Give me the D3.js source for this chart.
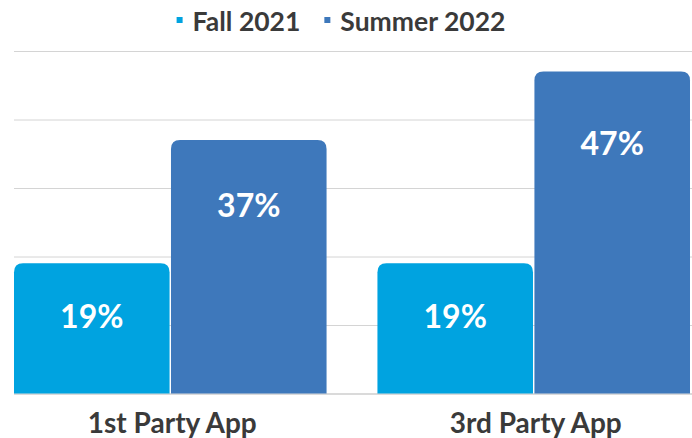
<!DOCTYPE html>
<html>
<head>
<meta charset="utf-8">
<script src="https://cdn.jsdelivr.net/npm/d3@7"></script>
<style>
  body { margin: 0; background: #fff; }
  text { font-family: Lato, "Open Sans", sans-serif; font-weight: bold; }
</style>
</head>
<body>
<script>
var categories = ["1st Party App", "3rd Party App"];
var seriesNames = ["Fall 2021", "Summer 2022"];
var fall2021 = [19, 19];
var summer2022 = [37, 47];
var yTicks = [0, 10, 20, 30, 40, 50];

var width = 692, height = 438;
var margins = {top: 51, left: 14, right: 2, bottom: 44.5};
var colors = d3.scaleOrdinal().domain(seriesNames).range(["#00A3E0", "#3E78BB"]);

var svg = d3.select("body").append("svg")
    .attr("width", width)
    .attr("height", height);

var y = d3.scaleLinear().domain([0, 50]).range([height - margins.bottom, margins.top]);

var x0 = d3.scaleBand()
    .domain(categories)
    .range([margins.left, width - margins.right])
    .paddingInner(0.14)
    .paddingOuter(0);

var x1 = d3.scaleBand()
    .domain(seriesNames)
    .range([0, x0.bandwidth()])
    .paddingInner(0.009);

// grid lines
var yAxis = d3.axisLeft(y)
    .tickValues(yTicks)
    .tickSize(-(width - margins.left))
    .tickFormat("");

var axisG = svg.append("g")
    .attr("transform", "translate(" + margins.left + ",0)")
    .call(yAxis);
axisG.select(".domain").remove();
axisG.selectAll(".tick line")
    .attr("stroke", function (d) { return d === 0 ? "#b5b5b5" : "#d4d4d4"; })
    .attr("stroke-width", 1);

// bars
var rows = categories.map(function (c, i) {
    return {cat: c, values: [
        {name: seriesNames[0], v: fall2021[i]},
        {name: seriesNames[1], v: summer2022[i]}
    ]};
});

function topRounded(x, yTop, w, h, r) {
    return "M" + x + "," + (yTop + h) +
        "V" + (yTop + r) +
        "Q" + x + "," + yTop + " " + (x + r) + "," + yTop +
        "H" + (x + w - r) +
        "Q" + (x + w) + "," + yTop + " " + (x + w) + "," + (yTop + r) +
        "V" + (yTop + h) + "Z";
}

var groups = svg.selectAll("g.group")
    .data(rows)
    .enter().append("g")
    .attr("class", "group")
    .attr("transform", function (d) { return "translate(" + x0(d.cat) + ",0)"; });

var bars = groups.selectAll("g.bar")
    .data(function (d) { return d.values; })
    .enter().append("g")
    .attr("class", "bar");

bars.append("path")
    .attr("fill", function (d) { return colors(d.name); })
    .attr("d", function (d) {
        var top = y(d.v), h = y(0) - top;
        return topRounded(x1(d.name), top, x1.bandwidth(), h, 9);
    });

bars.append("text")
    .attr("x", function (d) { return x1(d.name) + x1.bandwidth() / 2; })
    .attr("y", function (d) {
        var top = y(d.v), h = y(0) - top;
        return top + 40 + 0.1 * h;
    })
    .attr("dy", "0.36em")
    .attr("text-anchor", "middle")
    .attr("fill", "#fff")
    .attr("font-size", "32px")
    .text(function (d) { return d.v + "%"; });

// category labels (descenders run off the bottom edge, as in the source)
svg.selectAll("text.cat")
    .data(categories)
    .enter().append("text")
    .attr("class", "cat")
    .attr("x", function (d) { return x0(d) + x0.bandwidth() / 2 + 2; })
    .attr("y", 433)
    .attr("text-anchor", "middle")
    .attr("fill", "#3a3a3a")
    .attr("font-size", "28px")
    .text(function (d) { return d; });

// legend
var legend = svg.append("g").attr("class", "legend");
var lx = 0;
seriesNames.forEach(function (name, i) {
    var item = legend.append("g").attr("transform", "translate(" + lx + ",0)");
    item.append("rect")
        .attr("x", 0).attr("y", 17)
        .attr("width", 6).attr("height", 6)
        .attr("fill", colors(name));
    var t = item.append("text")
        .attr("x", 16).attr("y", 31)
        .attr("fill", "#3a3a3a")
        .attr("font-size", "26.5px")
        .text(name);
    lx += 16 + t.node().getComputedTextLength() + 24;
});
var lw = lx - 24;
legend.attr("transform", "translate(" + (341 - lw / 2) + ",0)");
</script>
</body>
</html>
